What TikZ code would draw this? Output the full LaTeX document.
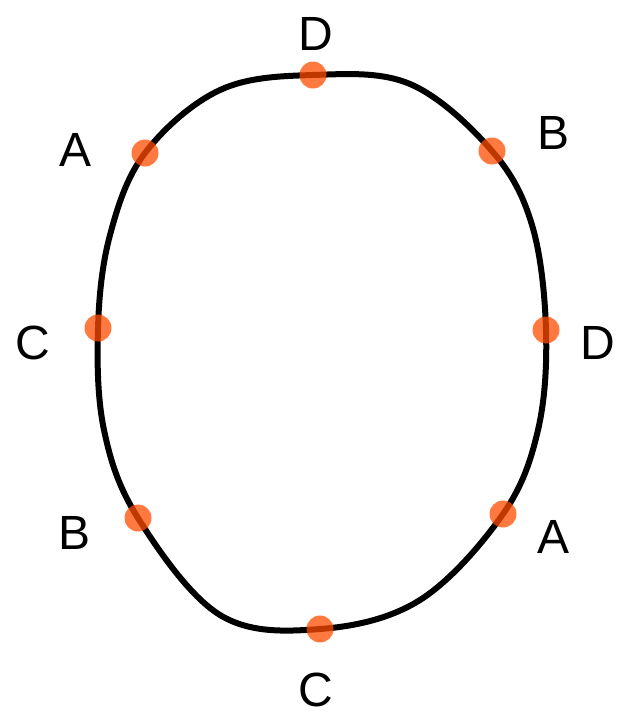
\documentclass[tikz,border=0pt]{standalone}
\usepackage{fontspec}
\setmainfont{Liberation Sans}
\usetikzlibrary{positioning}

\begin{document}
\begin{tikzpicture}[
    x=1pt, y=-1pt,
    rim/.style={line width=6pt, line join=round},
    spot/.style={circle, inner sep=0pt, minimum size=27pt, fill=orange!60!red, fill opacity=0.75},
    tag/.style={font=\fontsize{48}{48}\selectfont, inner sep=0pt}
]
\useasboundingbox (0,0) rectangle (619,718);

% Rand
\draw [rim] plot[smooth cycle, tension=0.6] coordinates {
    (313,75) (410,84) (492,151) (532,225) (546,330) (538,430) (503,514)
    (420,600) (320,629) (220,615) (138,518) (104,430) (98,328) (110,235)
    (145,153) (220,90)};

% Punkte auf dem Rand
\node (dtop) [spot] at (313,75) {};
\node (bright) [spot] at (492,151) {};
\node (dright) [spot] at (546,330) {};
\node (aright) [spot] at (503,514) {};
\node (cbot) [spot] at (320,629) {};
\node (bleft) [spot] at (138,518) {};
\node (cleft) [spot] at (98,328) {};
\node (aleft) [spot] at (145,153) {};

% Beschriftung
\node [tag, above=11pt of dtop, xshift=3pt] {D};
\node [tag, right=32pt of bright, yshift=18pt] {B};
\node [tag, right=21pt of dright, yshift=-13pt] {D};
\node [tag, right=21pt of aright, yshift=-23pt] {A};
\node [tag, below=30pt of cbot, xshift=-4pt] {C};
\node [tag, left=34pt of bleft, yshift=-15pt] {B};
\node [tag, left=34pt of cleft, yshift=-15pt] {C};
\node [tag, left=40pt of aleft, yshift=3pt] {A};
\end{tikzpicture}
\end{document}
